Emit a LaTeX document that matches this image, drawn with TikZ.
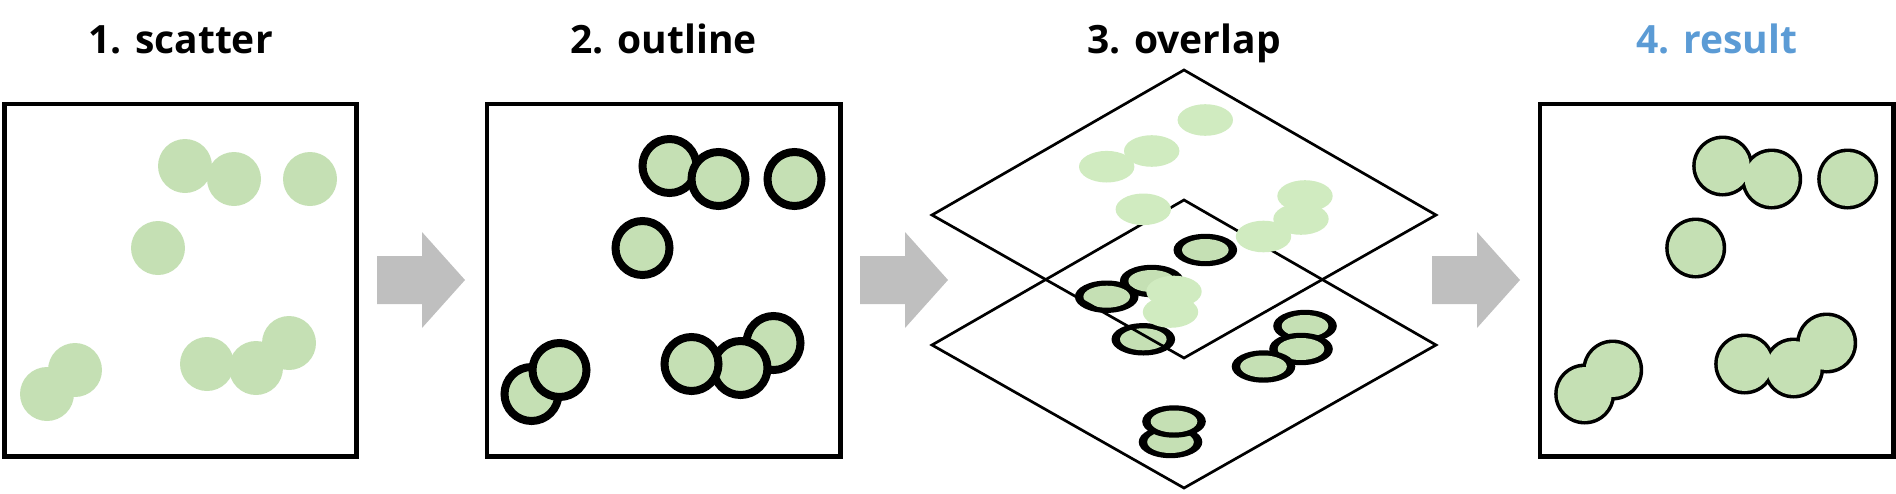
\documentclass[tikz,border=0pt]{standalone}
\usepackage{fontspec}
\setmainfont{Open Sans}
\usetikzlibrary{calc}
\definecolor{blobgreen}{HTML}{C5E0B4}
\definecolor{blobpale}{HTML}{D0EBC0}
\definecolor{arrowgray}{HTML}{BFBFBF}
\definecolor{titleblue}{HTML}{5B9BD5}
\tikzset {
    title/.style = {anchor = base, inner sep = 0pt, font = \fontsize{39}{47}\selectfont\bfseries},
    panel/.style = {draw, line width = 4.3pt},
    plane/.style = {draw, line width = 2.7pt},
    blob/.style = {fill = blobgreen},
    pale blob/.style = {fill = blobpale},
    ringed blob/.style = {fill = blobgreen, draw, line width = 8pt},
    gray arrow/.style = {fill = arrowgray},
}
% circle centres of the first panel
\newcommand{\blobxy}{185/166, 234/179, 310/179, 158/248, 47/394, 75/370, 289/343, 256/368, 207/364}
% ellipse centres of the lower plane
\newcommand{\layerxy}{1205.3/250, 1151.7/281, 1106.7/296.7, 1143.3/339.3, 1305/326, 1301/349, 1263.5/366.5, 1170.5/442, 1174/421.5}
\newcommand{\grayarrow}[1]{
    \fill [gray arrow] (#1, 256) -- ++(45, 0) -- ++(0, -24) -- ++(43, 48)
        -- ++(-43, 48) -- ++(0, -24) -- ++(-45, 0) -- cycle;
}

\begin{document}
\begin{tikzpicture}[x = 1pt, y = -1pt]
    \useasboundingbox (0, 0) rectangle (1896, 493);
    % titles
    \node (t1) [title] at (180.5, 53) {1. scatter};
    \node (t2) [title] at (663.7, 53) {2. outline};
    \node (t3) [title] at (1184, 53) {3. overlap};
    \node (t4) [title, text = titleblue] at (1716.7, 53) {4. result};
    % 1. scatter
    \draw [panel] (4.5, 104) rectangle (356.5, 456.5);
    \foreach \bx/\by in \blobxy
        \fill [blob] (\bx, \by) circle [radius = 27pt];
    \grayarrow{377}
    % 2. outline
    \draw [panel] (487, 104) rectangle (840.5, 456.5);
    \foreach \bx/\by in \blobxy
        \draw [ringed blob] ({\bx + 484.5}, \by) circle [radius = 27pt];
    \grayarrow{860}
    % 3. overlap
    \draw [plane] (1184, 200) -- (1436, 345) -- (1184, 488) -- (932, 345) -- cycle;
    \foreach \bx/\by in \layerxy {
        \fill (\bx, \by) ellipse [x radius = 31.8pt, y radius = 16.2pt];
        \fill [blob] (\bx, \by) ellipse [x radius = 23.3pt, y radius = 11pt];
    }
    \draw [plane] (1184, 70) -- (1436, 215) -- (1184, 358) -- (932, 215) -- cycle;
    \foreach \bx/\by in \layerxy
        \fill [pale blob] (\bx, \by - 130) ellipse [x radius = 27.7pt, y radius = 15.8pt];
    \grayarrow{1432}
    % 4. result
    \draw [panel] (1540, 104) rectangle (1893.5, 456.5);
    \foreach \bx/\by in \blobxy
        \fill ({\bx + 1537.7}, \by) circle [radius = 30.5pt];
    \foreach \bx/\by in \blobxy
        \fill [blob] ({\bx + 1537.7}, \by) circle [radius = 27pt];
\end{tikzpicture}
\end{document}
